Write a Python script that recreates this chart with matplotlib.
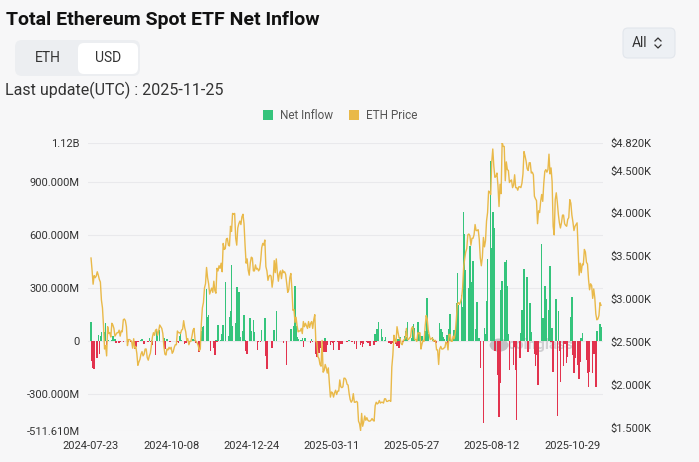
import numpy as np
import pandas as pd
import matplotlib
matplotlib.use("Agg")
import matplotlib.pyplot as plt
from matplotlib.patches import FancyBboxPatch, Rectangle, Ellipse
from matplotlib.lines import Line2D
from matplotlib.transforms import IdentityTransform

# ---- data (USD millions per trading day) ----
flows_2024 = [
    ("2024-07-23", 106.6), ("2024-07-24", -113.3), ("2024-07-25", -152.3), ("2024-07-26", -162.7),
    ("2024-07-29", -98.3), ("2024-07-30", 33.7), ("2024-07-31", -77.2),
    ("2024-08-01", 26.7), ("2024-08-02", 48.8), ("2024-08-05", 48.7), ("2024-08-06", 98.4),
    ("2024-08-07", -23.7), ("2024-08-08", -2.0), ("2024-08-09", 5.0), ("2024-08-12", 4.9),
    ("2024-08-13", 24.3), ("2024-08-14", -0.9), ("2024-08-15", 10.8), ("2024-08-16", -15.7),
    ("2024-08-19", -13.5), ("2024-08-20", -6.5), ("2024-08-21", -1.9), ("2024-08-22", -0.6),
    ("2024-08-23", -5.8), ("2024-08-26", -3.5), ("2024-08-27", -3.4), ("2024-08-28", -5.9),
    ("2024-08-29", -1.8), ("2024-08-30", -5.2),
    ("2024-09-03", -47.4), ("2024-09-04", -37.5), ("2024-09-05", -0.2), ("2024-09-06", -6.0),
    ("2024-09-09", 5.2), ("2024-09-10", 11.4), ("2024-09-11", -0.5), ("2024-09-12", -20.1),
    ("2024-09-13", 1.1), ("2024-09-16", -9.8), ("2024-09-17", 15.1), ("2024-09-18", -9.1),
    ("2024-09-19", 5.2), ("2024-09-20", -26.3), ("2024-09-23", -79.3), ("2024-09-24", 62.5),
    ("2024-09-25", 43.2), ("2024-09-26", 0.5), ("2024-09-27", 58.7), ("2024-09-30", -0.9),
    ("2024-10-01", 14.5), ("2024-10-02", -48.5), ("2024-10-03", -3.2), ("2024-10-04", 7.4),
    ("2024-10-07", -7.4), ("2024-10-09", -0.3), ("2024-10-10", -1.4), ("2024-10-11", 0.8),
    ("2024-10-14", -10.0), ("2024-10-15", -12.7), ("2024-10-16", 24.2), ("2024-10-17", 48.4),
    ("2024-10-18", 2.4), ("2024-10-21", -20.8), ("2024-10-22", -11.9), ("2024-10-23", -1.1),
    ("2024-10-24", -2.0), ("2024-10-25", -19.2), ("2024-10-28", -1.1), ("2024-10-29", 7.6),
    ("2024-10-30", 4.4), ("2024-10-31", -0.5),
    ("2024-11-01", -10.9), ("2024-11-04", -63.2), ("2024-11-06", 52.3), ("2024-11-07", 79.7),
    ("2024-11-08", 85.9), ("2024-11-11", 295.5), ("2024-11-12", 135.9), ("2024-11-13", 146.9),
    ("2024-11-14", -3.2), ("2024-11-15", -59.8), ("2024-11-18", -39.1), ("2024-11-19", -81.3),
    ("2024-11-20", 3.2), ("2024-11-21", -9.2), ("2024-11-22", 91.2), ("2024-11-25", 2.8),
    ("2024-11-26", 40.3), ("2024-11-27", 90.1), ("2024-11-29", 332.9),
    ("2024-12-02", 24.2), ("2024-12-03", 132.6), ("2024-12-04", 167.7), ("2024-12-05", 428.5),
    ("2024-12-06", 83.8), ("2024-12-09", 102.1), ("2024-12-10", 305.7), ("2024-12-11", 102.3),
    ("2024-12-12", 273.7), ("2024-12-13", 23.5), ("2024-12-16", 57.0), ("2024-12-17", 145.7),
    ("2024-12-18", 2.5), ("2024-12-19", -60.5), ("2024-12-20", -75.1), ("2024-12-23", 130.8),
    ("2024-12-24", 53.6), ("2024-12-26", 117.2), ("2024-12-27", 47.8), ("2024-12-30", -55.4),
    ("2024-12-31", -10.0),
]

flows_2025 = [
    ("2025-01-02", -6.0), ("2025-01-03", 58.9), ("2025-01-06", 128.7), ("2025-01-07", -86.8),
    ("2025-01-08", -159.4), ("2025-01-13", -39.4), ("2025-01-15", 59.8), ("2025-01-17", 166.6),
    ("2025-01-24", -14.0), ("2025-01-27", -136.2), ("2025-01-31", 66.0),
    ("2025-02-03", 83.5), ("2025-02-04", 307.8), ("2025-02-05", 85.0), ("2025-02-06", 18.9),
    ("2025-02-07", 10.5), ("2025-02-10", 6.1), ("2025-02-11", 12.6), ("2025-02-12", -38.0),
    ("2025-02-13", 14.0), ("2025-02-14", 17.5), ("2025-02-19", -15.0), ("2025-02-20", 8.0),
    ("2025-02-21", -8.0), ("2025-02-24", -78.1), ("2025-02-25", -94.3), ("2025-02-26", -48.1),
    ("2025-02-27", -71.2), ("2025-02-28", -41.7),
    ("2025-03-03", -17.0), ("2025-03-04", -63.3), ("2025-03-05", 14.6), ("2025-03-06", -62.0),
    ("2025-03-07", -23.0), ("2025-03-10", -21.6), ("2025-03-11", -10.0), ("2025-03-12", -14.0),
    ("2025-03-13", -50.0), ("2025-03-14", -10.0), ("2025-03-17", -7.0), ("2025-03-18", -53.0),
    ("2025-03-19", -12.0), ("2025-03-20", -18.7), ("2025-03-21", -18.0), ("2025-03-24", -2.0),
    ("2025-03-25", -3.2), ("2025-03-26", -5.9), ("2025-03-27", -4.2), ("2025-03-28", 4.7),
    ("2025-03-31", -6.3),
    ("2025-04-01", -3.6), ("2025-04-02", -20.0), ("2025-04-03", -2.0), ("2025-04-04", -49.8),
    ("2025-04-07", -3.3), ("2025-04-08", -23.0), ("2025-04-09", -11.0), ("2025-04-10", -38.3),
    ("2025-04-11", -20.0), ("2025-04-14", -5.0), ("2025-04-15", -12.0), ("2025-04-16", -12.2),
    ("2025-04-17", -32.0), ("2025-04-21", -25.4), ("2025-04-22", 38.8), ("2025-04-23", -8.0),
    ("2025-04-24", 63.5), ("2025-04-25", 104.1), ("2025-04-28", 64.1), ("2025-04-29", 18.4),
    ("2025-04-30", -2.3),
    ("2025-05-01", 6.0), ("2025-05-02", 20.1), ("2025-05-05", -15.0), ("2025-05-06", -12.0),
    ("2025-05-07", -16.0), ("2025-05-08", -5.0), ("2025-05-09", -12.0), ("2025-05-12", -20.0),
    ("2025-05-13", -30.0), ("2025-05-14", 12.0), ("2025-05-15", -39.0), ("2025-05-16", 22.0),
    ("2025-05-19", -8.0), ("2025-05-20", 25.0), ("2025-05-21", 56.0), ("2025-05-22", 20.0),
    ("2025-05-23", 108.0), ("2025-05-27", 15.0), ("2025-05-28", 84.9), ("2025-05-29", 91.9),
    ("2025-05-30", 70.0),
    ("2025-06-02", 108.0), ("2025-06-03", 47.0), ("2025-06-04", 28.0), ("2025-06-05", 12.0),
    ("2025-06-06", 25.0), ("2025-06-09", 52.7), ("2025-06-10", 20.0), ("2025-06-11", 240.3),
    ("2025-06-12", 38.0), ("2025-06-13", -2.2), ("2025-06-16", 19.0), ("2025-06-17", 12.0),
    ("2025-06-18", -5.0), ("2025-06-19", -11.0), ("2025-06-20", -13.0), ("2025-06-23", 100.6),
    ("2025-06-24", 66.0), ("2025-06-25", 47.0), ("2025-06-26", 19.0), ("2025-06-27", 8.0),
    ("2025-06-30", 31.0),
    ("2025-07-01", -11.0), ("2025-07-02", 64.0), ("2025-07-03", 148.5), ("2025-07-07", 62.0),
    ("2025-07-08", 46.0), ("2025-07-09", 211.3), ("2025-07-10", 383.1), ("2025-07-11", 204.9),
    ("2025-07-14", 259.0), ("2025-07-15", 192.3), ("2025-07-16", 726.6), ("2025-07-17", 602.0),
    ("2025-07-18", 402.5), ("2025-07-21", 296.5), ("2025-07-22", 533.9), ("2025-07-23", 332.2),
    ("2025-07-24", 231.2), ("2025-07-25", 452.7), ("2025-07-28", 65.1), ("2025-07-29", 218.6),
    ("2025-07-30", 5.8), ("2025-07-31", 17.0),
    ("2025-08-01", -152.3), ("2025-08-04", -465.1), ("2025-08-05", 73.2), ("2025-08-06", 35.1),
    ("2025-08-07", 222.3), ("2025-08-08", 461.2), ("2025-08-11", 1018.7), ("2025-08-12", 523.9),
    ("2025-08-13", 729.1), ("2025-08-14", 639.6), ("2025-08-15", -59.3), ("2025-08-18", -196.6),
    ("2025-08-19", -429.7), ("2025-08-20", -240.1), ("2025-08-21", 287.6), ("2025-08-22", 337.7),
    ("2025-08-25", 443.9), ("2025-08-26", 455.0), ("2025-08-27", 307.2), ("2025-08-28", 39.2),
    ("2025-08-29", -164.6),
    ("2025-09-02", -135.3), ("2025-09-03", -38.2), ("2025-09-04", -167.4), ("2025-09-05", -446.8),
    ("2025-09-08", -96.7), ("2025-09-09", 44.2), ("2025-09-10", 171.5), ("2025-09-11", 113.1),
    ("2025-09-12", 405.6), ("2025-09-15", 359.7), ("2025-09-16", -61.7), ("2025-09-17", -1.9),
    ("2025-09-18", 213.1), ("2025-09-19", 47.8), ("2025-09-22", -76.0), ("2025-09-23", -140.8),
    ("2025-09-24", -79.4), ("2025-09-25", -251.2), ("2025-09-26", -248.4), ("2025-09-29", 546.9),
    ("2025-09-30", 127.5),
    ("2025-10-01", 80.9), ("2025-10-02", 307.2), ("2025-10-03", 233.6), ("2025-10-06", 176.6),
    ("2025-10-07", 420.9), ("2025-10-08", -8.7), ("2025-10-09", 69.1), ("2025-10-10", -174.9),
    ("2025-10-13", 236.2), ("2025-10-14", -428.5), ("2025-10-15", 169.6), ("2025-10-16", -56.9),
    ("2025-10-17", -232.3), ("2025-10-20", -145.7), ("2025-10-21", -18.8), ("2025-10-22", -18.8),
    ("2025-10-23", -127.5), ("2025-10-24", -93.6), ("2025-10-27", 133.9), ("2025-10-28", 246.0),
    ("2025-10-29", -81.4), ("2025-10-30", -184.2), ("2025-10-31", -98.2),
    ("2025-11-03", -135.8), ("2025-11-04", -219.4), ("2025-11-05", -118.5), ("2025-11-06", 12.5),
    ("2025-11-07", 46.3), ("2025-11-11", -107.4), ("2025-11-12", -183.7), ("2025-11-13", -259.7),
    ("2025-11-14", -177.9), ("2025-11-17", -182.8), ("2025-11-18", -74.2), ("2025-11-19", -37.4),
    ("2025-11-20", -261.6), ("2025-11-21", 55.7), ("2025-11-24", 96.6), ("2025-11-25", 78.6),
]

# ETH daily price (USD), one value per calendar day
price_2024_start = "2024-07-23"
price_2024 = [
    3480, 3340, 3175, 3275, 3250, 3270, 3320, 3280, 3230,
    3200, 2990, 2900, 2690, 2420, 2460, 2340, 2680, 2600, 2610, 2560, 2720, 2700, 2660, 2570, 2590,
    2610, 2610, 2640, 2570, 2630, 2620, 2760, 2770, 2750, 2680, 2460, 2530, 2530, 2520, 2510,
    2430, 2540, 2430, 2450, 2370, 2230, 2270, 2300, 2360, 2390, 2340, 2360, 2420, 2420, 2320,
    2290, 2340, 2370, 2460, 2560, 2610, 2580, 2640, 2650, 2580, 2630, 2700, 2680, 2660, 2600,
    2450, 2360, 2350, 2420, 2410, 2440, 2420, 2440, 2370, 2390, 2440, 2470, 2470, 2630, 2610,
    2610, 2600, 2640, 2650, 2750, 2670, 2620, 2520, 2540, 2470, 2510, 2510, 2570, 2640, 2660, 2520,
    2510, 2490, 2460, 2400, 2420, 2720, 2900, 2960, 3130, 3180, 3370, 3250, 3180, 3060, 3100,
    3130, 3080, 3210, 3100, 3070, 3360, 3330, 3390, 3360, 3420, 3320, 3650, 3580, 3590, 3700,
    3710, 3630, 3620, 3850, 3790, 4000, 3990, 4000, 3710, 3630, 3830, 3880, 3910, 3870, 3960,
    3990, 3880, 3630, 3420, 3470, 3340, 3280, 3420, 3490, 3480, 3330, 3330, 3400, 3350, 3360, 3330,
]
price_2025_start = "2025-01-01"
price_2025 = [
    3350, 3450, 3600, 3650, 3630, 3690, 3380, 3330, 3220, 3270, 3280, 3270, 3140, 3230, 3450, 3310,
    3470, 3310, 3210, 3300, 3330, 3240, 3340, 3310, 3320, 3290, 3180, 3080, 3110, 3250, 3300,
    3120, 2870, 2880, 2730, 2790, 2690, 2620, 2630, 2630, 2660, 2600, 2740, 2680, 2720, 2690, 2660,
    2740, 2670, 2720, 2740, 2660, 2760, 2820, 2510, 2500, 2330, 2310, 2240,
    2220, 2520, 2150, 2170, 2240, 2200, 2140, 2200, 2020, 1860, 1920, 1910, 1860, 1910, 1940, 1890,
    1930, 1930, 2060, 1980, 1970, 1980, 2080, 2080, 2060, 2010, 2000, 1900, 1830, 1800, 1820,
    1900, 1800, 1800, 1810, 1800, 1580, 1550, 1470, 1670, 1520, 1570, 1640, 1590, 1620, 1590,
    1580, 1580, 1590, 1610, 1590, 1580, 1760, 1800, 1780, 1790, 1820, 1790, 1800, 1800, 1790,
    1840, 1840, 1810, 1810, 1820, 1820, 1810, 2210, 2350, 2580, 2520, 2500, 2680, 2610, 2550, 2540,
    2480, 2470, 2520, 2530, 2550, 2660, 2530, 2530, 2550, 2560, 2660, 2680, 2630, 2530, 2530,
    2510, 2610, 2600, 2610, 2420, 2480, 2520, 2510, 2680, 2810, 2770, 2640, 2580, 2530, 2540,
    2550, 2510, 2520, 2520, 2410, 2410, 2240, 2420, 2450, 2420, 2420, 2430, 2440, 2500, 2490,
    2410, 2590, 2590, 2510, 2510, 2570, 2540, 2610, 2770, 2950, 2960, 2940, 2970, 3010, 3130, 3370,
    3470, 3550, 3590, 3750, 3760, 3740, 3630, 3710, 3710, 3750, 3870, 3800, 3800, 3810, 3700,
    3480, 3390, 3490, 3720, 3610, 3680, 3910, 4010, 4260, 4250, 4220, 4600, 4750, 4550, 4420, 4430,
    4470, 4320, 4080, 4340, 4230, 4830, 4780, 4780, 4380, 4600, 4510, 4500, 4360, 4380, 4390,
    4300, 4330, 4450, 4300, 4300, 4270, 4310, 4310, 4300, 4350, 4460, 4720, 4670, 4610, 4520,
    4500, 4590, 4590, 4470, 4480, 4450, 4200, 4170, 4150, 3880, 4030, 4010, 4140, 4220, 4140,
    4350, 4490, 4510, 4480, 4510, 4690, 4460, 4530, 4370, 3850, 3750, 4160, 4240, 4130, 3990, 3890,
    3830, 3890, 3980, 3980, 3880, 3860, 3850, 3930, 3950, 4160, 4120, 3980, 3900, 3800, 3850,
    3870, 3890, 3600, 3280, 3420, 3310, 3410, 3400, 3580, 3550, 3430, 3410, 3230, 3110, 3180,
    3160, 3010, 3120, 3020, 2830, 2760, 2770, 2810, 2960, 2930,
]

left_ticks = [-511.61, -300, 0, 300, 600, 900, 1120]
left_labels = ["-511.610M", "-300.000M", "0", "300.000M", "600.000M", "900.000M", "1.12B"]
right_ticks = [1.5, 2.0, 2.5, 3.0, 3.5, 4.0, 4.5, 4.82]
right_labels = ["$1.500K", "$2.000K", "$2.500K", "$3.000K", "$3.500K", "$4.000K", "$4.500K", "$4.820K"]
x_tick_labels = ["2024-07-23", "2024-10-08", "2024-12-24", "2025-03-11", "2025-05-27", "2025-08-12", "2025-10-29"]

# ---- styling ----
W, H = 699, 462
BG = "#f7f7f8"
GREEN = "#35c47c"
RED = "#e2334e"
GOLD = "#e9b949"
TXT = "#333333"
FONT = "Roboto"

plt.rcParams["font.family"] = [FONT, "DejaVu Sans"]

flows = flows_2024 + flows_2025
flow_dates = pd.to_datetime([d for d, _ in flows])
flow_vals = np.array([v for _, v in flows])
price_dates = np.concatenate([
    pd.date_range(price_2024_start, periods=len(price_2024), freq="D").values,
    pd.date_range(price_2025_start, periods=len(price_2025), freq="D").values,
])
price_vals = np.array(price_2024 + price_2025) / 1000.0

fig = plt.figure(figsize=(W / 100, H / 100), dpi=100, facecolor=BG)


def px_box(x0, y0, x1, y1, fc, ec="none", r=6, lw=0.8):
    p = FancyBboxPatch((x0, H - y1), x1 - x0, y1 - y0,
                       boxstyle=f"round,pad=0,rounding_size={r}",
                       fc=fc, ec=ec, lw=lw, transform=IdentityTransform())
    fig.patches.append(p)


def px_text(x, y, s, **kw):
    fig.text(x / W, 1 - y / H, s, **kw)


# header
px_text(6, 20, "Total Ethereum Spot ETF Net Inflow", fontsize=14, fontweight="bold",
        color="#111111", va="center", ha="left")
px_box(15, 40, 140, 76, "#eceef1", r=7)
px_box(78, 43, 138, 74, "#ffffff", r=6)
px_text(48, 58, "ETH", fontsize=10, color=TXT, ha="center", va="center")
px_text(108, 58, "USD", fontsize=10, color=TXT, ha="center", va="center")
px_text(5, 90, "Last update(UTC) : 2025-11-25", fontsize=11.5, color=TXT, ha="left", va="center")
px_box(623, 28, 675, 58, "#edf0f4", ec="#e2e6ec", r=5)
px_text(640, 43, "All", fontsize=10, color=TXT, ha="center", va="center")
for pts in ([(655, 41), (658, 38), (661, 41)], [(655, 45), (658, 48), (661, 45)]):
    fig.lines.append(Line2D([p[0] for p in pts], [H - p[1] for p in pts], color=TXT,
                            lw=0.9, transform=IdentityTransform()))

# legend
for x0, col, lab in ((263, GREEN, "Net Inflow"), (349, GOLD, "ETH Price")):
    fig.patches.append(Rectangle((x0, H - 120), 10, 10, fc=col, ec="none",
                                 transform=IdentityTransform()))
    px_text(x0 + 17, 115, lab, fontsize=8.5, color="#555555", ha="left", va="center")

# ---- main axes ----
ax = fig.add_axes([88 / W, 1 - 431 / H, (603 - 88) / W, (431 - 143) / H])
ax.set_facecolor("none")
d0 = pd.Timestamp(flows[0][0])
d1 = pd.Timestamp(flows[-1][0])
ax.set_xlim(d0 - pd.Timedelta(days=2.9), d1 + pd.Timedelta(days=1.9))
ax.set_ylim(left_ticks[0], left_ticks[-1])

for t in left_ticks:
    ax.axhline(t, color="#e9e9ec", lw=0.8, zorder=0)

# watermark
ax.text(pd.Timestamp("2025-08-27"), -22, "coinglass", fontsize=11, color="#cfcfd2",
        ha="left", va="center", zorder=0.5, fontweight="bold")
ax.add_patch(Ellipse((pd.Timestamp("2025-08-19"), -25), 18, 75, fc="#c2c2c4", ec="none", zorder=0.5))

colors = np.where(flow_vals >= 0, GREEN, RED)
ax.bar(flow_dates, flow_vals, width=1.5, color=colors, linewidth=0, zorder=2)

ax.set_yticks(left_ticks)
ax.set_yticklabels(left_labels)
ax.set_xticks(pd.to_datetime(x_tick_labels))
ax.set_xticklabels(x_tick_labels)
ax.tick_params(length=0, labelsize=8, colors=TXT, pad=6)
ax.tick_params(axis="x", pad=7)
for s in ax.spines.values():
    s.set_visible(False)

ax2 = ax.twinx()
ax2.plot(price_dates, price_vals, color=GOLD, lw=1.0, zorder=3)
ax2.set_ylim(1.465, 4.82)
ax2.set_yticks(right_ticks)
ax2.set_yticklabels(right_labels)
ax2.tick_params(length=0, labelsize=8, colors=TXT, pad=5)
for s in ax2.spines.values():
    s.set_visible(False)

fig.savefig("out.png", dpi=100, facecolor=BG)
